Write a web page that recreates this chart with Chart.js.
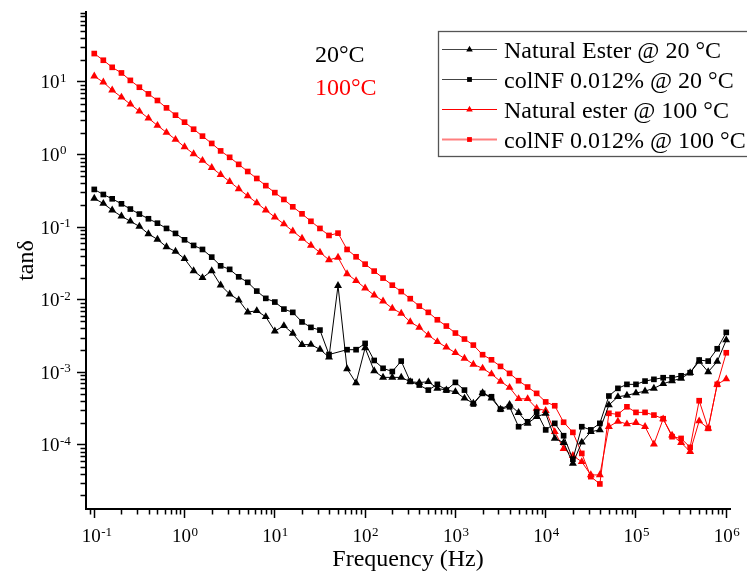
<!DOCTYPE html>
<html>
<head>
<meta charset="utf-8">
<title>tan delta vs frequency</title>
<script src="https://cdn.jsdelivr.net/npm/chart.js@4.4.1/dist/chart.umd.min.js"></script>
<style>
  html, body { margin: 0; padding: 0; background: #fff; }
  #wrap { width: 747px; height: 574px; }
</style>
</head>
<body>
<div id="wrap"><canvas id="chartTanDelta" width="747" height="574"></canvas></div>
<script>
// frequency sweep, 10 points per decade (Hz)
const frequencies = [
  0.1, 0.126, 0.158, 0.2, 0.251, 0.316, 0.398, 0.501, 0.631, 0.794,
  1, 1.26, 1.58, 2, 2.51, 3.16, 3.98, 5.01, 6.31, 7.94,
  10, 12.6, 15.8, 20, 25.1, 31.6, 39.8, 50.1, 63.1, 79.4,
  100, 126, 158, 200, 251, 316, 398, 501, 631, 794,
  1000, 1260, 1580, 2000, 2510, 3160, 3980, 5010, 6310, 7940,
  1e4, 1.26e4, 1.58e4, 2e4, 2.51e4, 3.16e4, 3.98e4, 5.01e4, 6.31e4, 7.94e4,
  1e5, 1.26e5, 1.58e5, 2e5, 2.51e5, 3.16e5, 3.98e5, 5.01e5, 6.31e5, 7.94e5,
  1e6
];

const naturalEster20 = [
  0.248, 0.211, 0.171, 0.141, 0.120, 0.102, 0.0805, 0.0675, 0.0533, 0.0461,
  0.0365, 0.0249, 0.0200, 0.0249, 0.0158, 0.0119, 0.00984, 0.00673, 0.00701, 0.00579,
  0.00368, 0.00436, 0.00342, 0.00239, 0.00240, 0.00206, 0.00161, 0.0156, 0.00111, 0.000711,
  0.00216, 0.00104, 0.000847, 0.000847, 0.000847, 0.000738, 0.000719, 0.000738, 0.000598, 0.000566,
  0.000537, 0.000436, 0.000372, 0.000520, 0.000436, 0.000308, 0.000358, 0.000276, 0.000197, 0.000243,
  0.000269, 0.000122, 0.000107, 0.0000553, 0.000108, 0.000151, 0.000160, 0.000352, 0.000458, 0.000479,
  0.000515, 0.000548, 0.000598, 0.000692, 0.000759, 0.000820, 0.000982, 0.00141, 0.00101, 0.00140,
  0.00277
];

const colNF20 = [
  0.330, 0.281, 0.245, 0.209, 0.177, 0.151, 0.130, 0.113, 0.0957, 0.0817,
  0.0667, 0.0558, 0.0491, 0.0385, 0.0292, 0.0261, 0.0206, 0.0173, 0.0131, 0.0104,
  0.00925, 0.00740, 0.00667, 0.00492, 0.00414, 0.00380, 0.00175, null, 0.00204, 0.00204,
  0.00249, 0.00145, 0.00113, 0.00102, 0.00142, 0.000745, 0.000664, 0.000566, 0.000679, 0.000566,
  0.000723, 0.000566, 0.000364, 0.000510, 0.000458, 0.000308, 0.000333, 0.000177, 0.000207, 0.000282,
  0.000160, 0.000197, 0.000133, 0.0000631, 0.000177, 0.000160, 0.000197, 0.000469, 0.000598, 0.000679,
  0.000679, 0.000753, 0.000796, 0.000838, 0.000838, 0.000891, 0.000982, 0.00147, 0.00142, 0.00210,
  0.00353
];

const naturalEster100 = [
  12.0, 9.91, 7.69, 6.15, 4.93, 3.94, 3.16, 2.51, 2.01, 1.61,
  1.27, 1.02, 0.826, 0.658, 0.527, 0.422, 0.336, 0.268, 0.215, 0.171,
  0.137, 0.110, 0.0879, 0.0697, 0.0558, 0.0447, 0.0353, 0.0381, 0.0226, 0.0182,
  0.0144, 0.0115, 0.00953, 0.00757, 0.00646, 0.00492, 0.00414, 0.00324, 0.00262, 0.00220,
  0.00185, 0.00155, 0.00128, 0.00113, 0.000942, 0.000745, 0.000614, 0.000429, 0.000429, 0.000316,
  0.000295, 0.000151, 0.0000881, 0.0000708, 0.0000582, 0.0000383, 0.0000383, 0.000177, 0.000210, 0.000193,
  0.000201, 0.000177, 0.000102, 0.000226, 0.000135, 0.000107, 0.0000802, 0.000212, 0.000168, 0.000679,
  0.000804
];

const colNF100 = [
  24.6, 19.9, 15.9, 13.3, 10.5, 8.45, 6.84, 5.55, 4.39, 3.48,
  2.79, 2.23, 1.79, 1.42, 1.12, 0.914, 0.731, 0.583, 0.467, 0.372,
  0.298, 0.240, 0.190, 0.152, 0.120, 0.0957, 0.0766, 0.0824, 0.0491, 0.0389,
  0.0308, 0.0247, 0.0198, 0.0158, 0.0129, 0.0103, 0.00813, 0.00667, 0.00527, 0.00432,
  0.00346, 0.00286, 0.00236, 0.00174, 0.00148, 0.00120, 0.000962, 0.000762, 0.000624, 0.000510,
  0.000389, 0.000344, 0.000204, 0.000148, 0.0000759, 0.0000363, 0.0000288, 0.000271, 0.000262, 0.000333,
  0.000279, 0.000279, 0.000256, 0.000228, 0.000129, 0.000122, 0.0000920, 0.000404, 0.000168, 0.000679,
  0.00185
];

const seriesLabels = [
  'Natural Ester @ 20 °C',
  'colNF 0.012% @ 20 °C',
  'Natural ester @ 100 °C',
  'colNF 0.012% @ 100 °C'
];

const xTickValues = [0.1, 1, 10, 100, 1e3, 1e4, 1e5, 1e6];
const yTickValues = [1e-4, 1e-3, 1e-2, 1e-1, 1, 10];

const serif = "'Liberation Serif', 'Times New Roman', serif";

function toPoints(values) {
  return frequencies.map((f, i) => ({ x: f, y: values[i] }));
}

function serie(label, values, color, style) {
  return {
    label: label,
    data: toPoints(values),
    borderColor: color,
    backgroundColor: color,
    borderWidth: 1,
    pointStyle: style,
    pointRadius: style === 'triangle' ? 4.6 : 4,
    pointBorderWidth: 0,
    spanGaps: true
  };
}

// draws decade labels with superscripts, minor ticks, titles, legend box and notes
const decorPlugin = {
  id: 'decor',
  afterDraw(chart) {
    const ctx = chart.ctx;
    const xs = chart.scales.x, ys = chart.scales.y;
    const area = chart.chartArea;
    ctx.save();

    // minor ticks
    ctx.strokeStyle = '#000';
    ctx.lineWidth = 1.5;
    ctx.beginPath();
    for (let e = -6; e <= 6; e++) {
      for (let m = 2; m <= 9; m++) {
        const v = m * Math.pow(10, e);
        if (v >= xs.min && v <= xs.max) {
          const px = Math.round(xs.getPixelForValue(v)) + 0.5;
          ctx.moveTo(px, area.bottom);
          ctx.lineTo(px, area.bottom + 5.5);
        }
        if (v >= ys.min && v <= ys.max) {
          const py = Math.round(ys.getPixelForValue(v)) + 0.5;
          ctx.moveTo(area.left, py);
          ctx.lineTo(area.left - 5.5, py);
        }
      }
    }
    ctx.stroke();

    // decade labels 10^n
    ctx.fillStyle = '#000';
    const power = (exp, xRight, base) => {
      ctx.font = '19px ' + serif;
      ctx.textAlign = 'right';
      ctx.fillText('10', xRight, base);
      ctx.font = '13px ' + serif;
      ctx.textAlign = 'left';
      ctx.fillText(String(exp), xRight + 0.5, base - 6.5);
    };
    xTickValues.forEach(v => {
      power(Math.round(Math.log10(v)), xs.getPixelForValue(v) + 6.5, area.bottom + 33);
    });
    yTickValues.forEach(v => {
      power(Math.round(Math.log10(v)), 59.5, ys.getPixelForValue(v) + 6.5);
    });

    // axis titles
    ctx.font = '24px ' + serif;
    ctx.textAlign = 'center';
    ctx.fillText('Frequency (Hz)', (area.left + area.right) / 2, 566);
    ctx.save();
    ctx.translate(33, (area.top + area.bottom) / 2);
    ctx.rotate(-Math.PI / 2);
    ctx.fillText('tanδ', 0, 0);
    ctx.restore();

    // temperature notes
    ctx.textAlign = 'left';
    ctx.font = '24px ' + serif;
    ctx.fillStyle = '#000';
    ctx.fillText('20°C', 315, 62);
    ctx.fillStyle = '#ff0000';
    ctx.fillText('100°C', 315, 95);

    // legend box
    ctx.strokeStyle = '#555';
    ctx.lineWidth = 1.3;
    ctx.strokeRect(438.5, 31.5, 330, 125);
    const lineColors = ['#444', '#444', '#ff0000', 'rgba(255,0,0,0.5)'];
    const lineWidths = [1, 1, 1, 2];
    chart.data.datasets.forEach((ds, i) => {
      const y = 49.5 + i * 30;
      ctx.strokeStyle = lineColors[i];
      ctx.lineWidth = lineWidths[i];
      ctx.beginPath();
      ctx.moveTo(442, y);
      ctx.lineTo(497, y);
      ctx.stroke();
      ctx.fillStyle = ds.backgroundColor;
      Chart.helpers.drawPoint(ctx, { pointStyle: ds.pointStyle, radius: ds.pointStyle === 'triangle' ? 3.8 : 3.4, borderWidth: 0, rotation: 0 }, 469.5, y);
      ctx.fillStyle = '#000';
      ctx.font = '24px ' + serif;
      ctx.textAlign = 'left';
      ctx.fillText(ds.label, 504, y + 8);
    });

    ctx.restore();
  }
};

const ctxTan = document.getElementById('chartTanDelta').getContext('2d');
const tanChart = new Chart(ctxTan, {
  type: 'line',
  data: {
    datasets: [
      serie(seriesLabels[0], naturalEster20, '#000000', 'triangle'),
      serie(seriesLabels[1], colNF20, '#000000', 'rect'),
      serie(seriesLabels[2], naturalEster100, '#ff0000', 'triangle'),
      serie(seriesLabels[3], colNF100, '#ff0000', 'rect')
    ]
  },
  options: {
    responsive: false,
    animation: false,
    layout: { padding: { top: 12, right: 17, left: 0, bottom: 0 } },
    plugins: { legend: { display: false }, tooltip: { enabled: false } },
    scales: {
      x: {
        type: 'logarithmic',
        position: 'bottom',
        min: 0.081,
        max: 1.1e6,
        afterBuildTicks: s => { s.ticks = xTickValues.map(v => ({ value: v })); },
        afterFit: s => { s.height = 65; },
        ticks: { display: false },
        grid: { drawOnChartArea: false, tickLength: 9, tickColor: '#000', tickWidth: 1.5 },
        border: { display: true, color: '#000', width: 2 }
      },
      y: {
        type: 'logarithmic',
        position: 'left',
        min: 1.3e-5,
        max: 92,
        afterBuildTicks: s => { s.ticks = yTickValues.map(v => ({ value: v })); },
        afterFit: s => { s.width = 86; },
        ticks: { display: false },
        grid: { drawOnChartArea: false, tickLength: 9, tickColor: '#000', tickWidth: 1.5 },
        border: { display: true, color: '#000', width: 2 }
      }
    }
  },
  plugins: [decorPlugin]
});
</script>
</body>
</html>
